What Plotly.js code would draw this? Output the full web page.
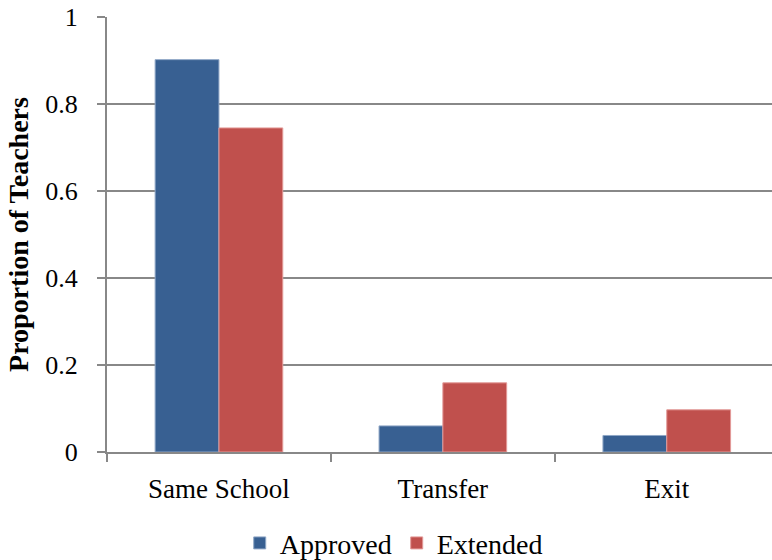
<!DOCTYPE html>
<html>
<head>
<meta charset="utf-8">
<script src="https://cdn.plot.ly/plotly-3.0.1.min.js"></script>
<style>
html,body{margin:0;padding:0;background:#fff}
#chart{width:772px;height:560px}
#chart text{font-family:'Liberation Serif',serif !important;}
</style>
</head>
<body>
<div id="chart"></div>
<script>
const categories = ["Same School", "Transfer", "Exit"];
const approved = [0.902, 0.060, 0.038];
const extended = [0.745, 0.159, 0.097];
const seriesNames = ["Approved", "Extended"];
const yTickVals = [0, 0.2, 0.4, 0.6, 0.8, 1];
const yTickText = ["0", "0.2", "0.4", "0.6", "0.8", "1"];

const font = "Liberation Serif";
const traces = [
  {type: "bar", name: seriesNames[0], x: categories, y: approved,
   marker: {color: "#386092", line: {color: "#8fa7c6", width: 1}}},
  {type: "bar", name: seriesNames[1], x: categories, y: extended,
   marker: {color: "#c0504d", line: {color: "#e39a98", width: 1}}}
];
const layout = {
  width: 772, height: 560,
  margin: {l: 107, r: 0, t: 17, b: 108},
  paper_bgcolor: "#fff", plot_bgcolor: "#fff",
  font: {family: font, size: 26, color: "#000"},
  barmode: "group", bargap: 0.43, bargroupgap: 0,
  showlegend: true,
  legend: {orientation: "h", xref: "container", yref: "container", x: 0.51, xanchor: "center",
           y: 0.03, yanchor: "middle", font: {family: font, size: 28}, itemwidth: 30, tracegroupgap: 0},
  xaxis: {type: "category", range: [-0.5, 2.47], showline: true, linecolor: "#888", linewidth: 2,
          ticks: "outside", tickson: "boundaries", ticklen: 8, tickcolor: "#888", tickwidth: 2,
          ticklabelstandoff: 12, showgrid: false, fixedrange: true,
          tickfont: {family: font, size: 27}},
  yaxis: {range: [0, 1], tickvals: yTickVals, ticktext: yTickText, showline: true, linecolor: "#888",
          linewidth: 2, ticks: "outside", ticklen: 8, tickcolor: "#888", tickwidth: 2,
          showgrid: true, gridcolor: "#888", gridwidth: 2, zeroline: false, ticklabelstandoff: 14,
          tickfont: {family: font, size: 26},
          title: {text: "<b>Proportion of Teachers</b>", font: {family: font, size: 28}, standoff: 8}}
};
Plotly.newPlot("chart", traces, layout, {displayModeBar: false, staticPlot: true});
</script>
</body>
</html>
